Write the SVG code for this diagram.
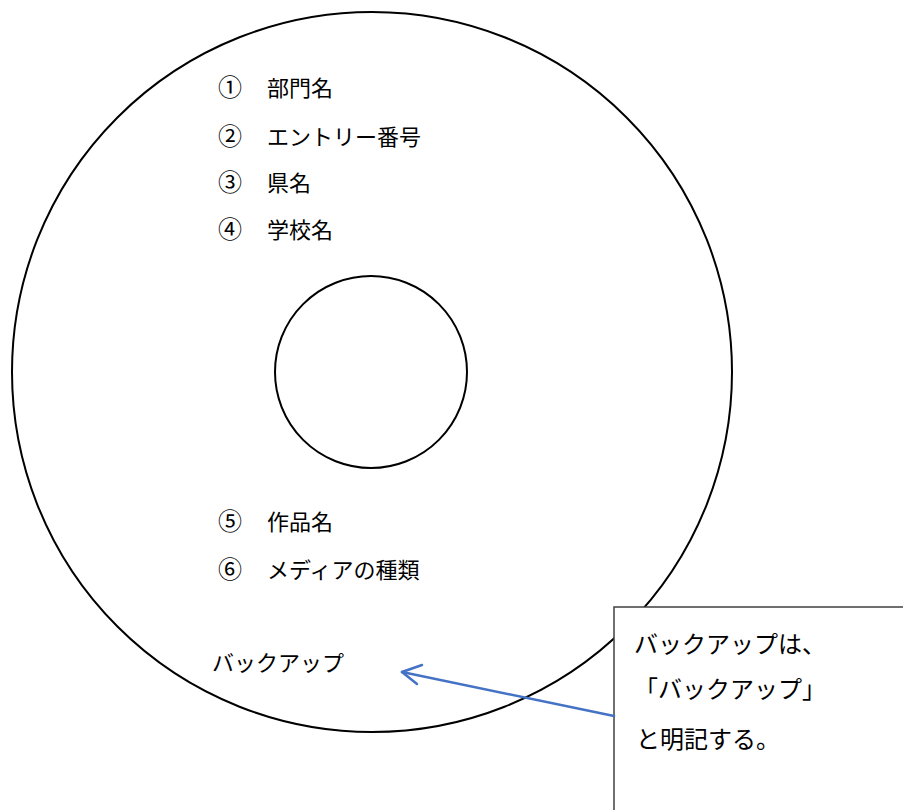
<svg xmlns="http://www.w3.org/2000/svg" width="903" height="810" viewBox="0 0 903 810">
<style>
.disc{fill:none;stroke:#000;stroke-width:2}
.t{font-family:"Liberation Serif","Noto Sans CJK JP",serif;font-size:22px;fill:#000;dominant-baseline:central}
.n{text-anchor:middle;font-size:24px}
.bt{font-family:"Liberation Serif","Noto Sans CJK JP",serif;font-size:24px;fill:#000;dominant-baseline:central}
.conn{fill:none;stroke:#4472C4;stroke-width:2.5;stroke-linecap:round;stroke-linejoin:round}
</style>
<rect width="903" height="810" fill="#fff"/>
<g id="disc">
<circle class="disc" cx="372" cy="372" r="360"/>
<circle class="disc" cx="371" cy="372" r="96"/>
</g>
<g id="labels">
<text class="t n" x="230" y="88">①</text><text class="t" x="267" y="88">部門名</text>
<text class="t n" x="230" y="137">②</text><text class="t" x="267" y="137">エントリー番号</text>
<text class="t n" x="230" y="183">③</text><text class="t" x="267" y="183">県名</text>
<text class="t n" x="230" y="230">④</text><text class="t" x="267" y="230">学校名</text>
<text class="t n" x="230" y="522">⑤</text><text class="t" x="267" y="522">作品名</text>
<text class="t n" x="230" y="570">⑥</text><text class="t" x="267" y="570">メディアの種類</text>
<text class="t" x="212" y="663">バックアップ</text>
</g>
<g id="note">
<rect x="614" y="607" width="320" height="240" fill="#fff" stroke="#404040" stroke-width="1.5"/>
<text class="bt" x="634" y="645">バックアップは、</text>
<text class="bt" x="634" y="690">「バックアップ」</text>
<text class="bt" x="636" y="740">と明記する。</text>
</g>
<g id="connectors">
<path class="conn" d="M614,716 L402,672"/>
<path class="conn" d="M422,665 L402,672 L417,684"/>
</g>
</svg>
